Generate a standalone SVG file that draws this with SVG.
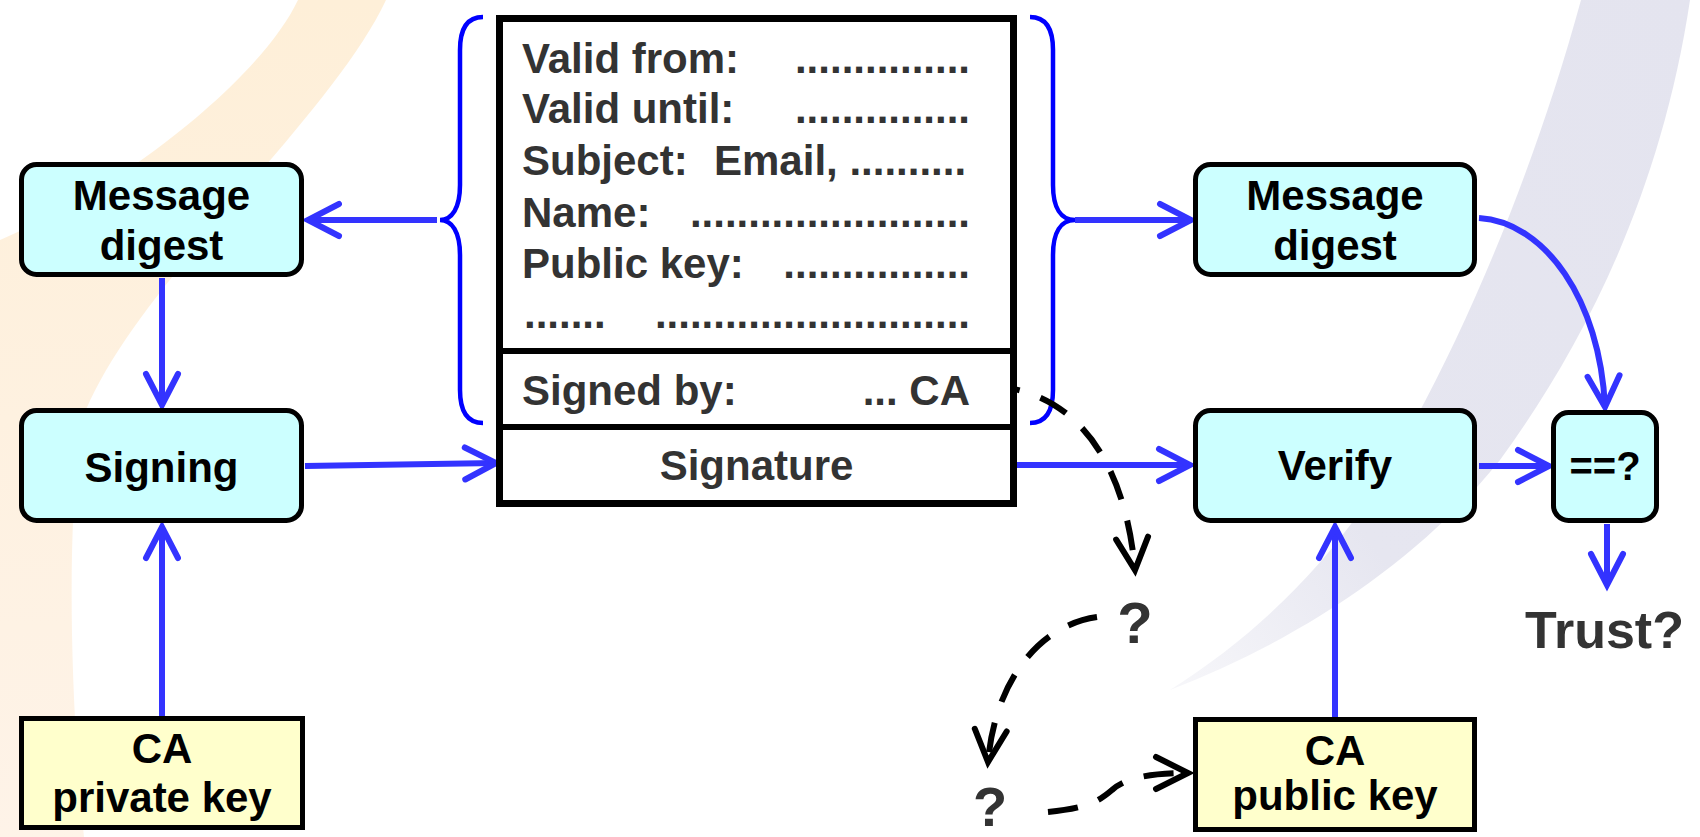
<svg xmlns="http://www.w3.org/2000/svg" width="1700" height="837" viewBox="0 0 1700 837">
<defs>
<style>
.box{fill:#CCFFFF;stroke:#000;stroke-width:5}
.key{fill:#FFFFCC;stroke:#000;stroke-width:5}
.lbl{font-family:"Liberation Sans",Arial,sans-serif;font-weight:bold;font-size:42px;fill:#000;text-anchor:middle}
.cert{font-family:"Liberation Sans",Arial,sans-serif;font-weight:bold;font-size:42px;fill:#333}
.end{text-anchor:end}
.mid{text-anchor:middle}
.q{font-family:"Liberation Sans",Arial,sans-serif;font-weight:bold;font-size:58px;fill:#333;text-anchor:middle}
.blue{fill:none;stroke:#3333FF;stroke-width:6;marker-end:url(#ab)}
.brace{fill:none;stroke:#0000FF;stroke-width:4.5}
.dash{fill:none;stroke:#000;stroke-width:6;stroke-dasharray:30 22;marker-end:url(#ak)}
</style>
<marker id="ab" markerUnits="userSpaceOnUse" markerWidth="80" markerHeight="80" refX="0" refY="0" orient="auto" overflow="visible" viewBox="-40 -40 80 80">
<path d="M-31,-16 L0,0 L-31,16" fill="none" stroke="#3333FF" stroke-width="6" stroke-linecap="round" stroke-linejoin="miter"/>
</marker>
<marker id="ak" markerUnits="userSpaceOnUse" markerWidth="80" markerHeight="80" refX="0" refY="0" orient="auto" overflow="visible" viewBox="-40 -40 80 80">
<path d="M-32,-16 L0,0 L-32,16" fill="none" stroke="#000" stroke-width="6" stroke-dasharray="none" stroke-linecap="round"/>
</marker>
<linearGradient id="og" x1="0" y1="0" x2="0" y2="1">
<stop offset="0" stop-color="#FEEFD8"/>
<stop offset="1" stop-color="#FEF3E8"/>
</linearGradient>
<linearGradient id="gg" x1="1" y1="0" x2="0" y2="1">
<stop offset="0" stop-color="#E4E4EF"/>
<stop offset="0.7" stop-color="#E6E6F0"/>
<stop offset="1" stop-color="#F7F7FA"/>
</linearGradient>
</defs>
<rect width="1700" height="837" fill="#fff"/>
<g id="background">
<path d="M298,0 L386,0 C330,120 130,290 82,420 C66,520 70,700 84,837 L0,837 L0,240 C120,190 260,80 298,0 Z" fill="url(#og)"/>
<path d="M1581,0 L1690,0 C1660,200 1580,350 1500,460 C1420,560 1300,640 1170,690 C1280,620 1360,530 1415,420 C1480,300 1540,150 1581,0 Z" fill="url(#gg)"/>
</g>
<g id="connectors">
<path class="blue" d="M437,220 L308,220"/>
<path class="blue" d="M1075,220 L1191,220"/>
<path class="blue" d="M162,278 L162,405"/>
<path class="blue" d="M162,716 L162,527"/>
<path class="blue" d="M305,466 L496,463"/>
<path class="blue" d="M1017,465 L1190,465"/>
<path class="blue" d="M1335,717 L1335,527"/>
<path class="blue" d="M1479,466 L1549,466"/>
<path class="blue" d="M1479,218 C1545,222 1600,300 1605,407"/>
<path class="blue" d="M1607,524 L1607,585"/>
<path class="brace" d="M483,17 C466,17 460,30 460,50 L460,185 C460,208 452,220 440,220 C452,220 460,232 460,255 L460,390 C460,410 466,423 483,423"/>
<path class="brace" d="M1030,17 C1047,17 1053,30 1053,50 L1053,185 C1053,208 1061,220 1075,220 C1061,220 1053,232 1053,255 L1053,390 C1053,410 1047,423 1030,423"/>
<path class="dash" d="M990,386 C1075,390 1125,460 1135,570"/>
<path class="dash" d="M1097,617 C1040,625 995,680 988,762"/>
<path class="dash" d="M1048,812 C1090,808 1100,800 1112,790 C1125,778 1150,773 1188,773"/>
</g>
<g id="certificate">
<rect x="499.5" y="18.5" width="514" height="485" fill="#fff" stroke="#000" stroke-width="7"/>
<line x1="499.5" y1="351" x2="1013.5" y2="351" stroke="#000" stroke-width="6"/>
<line x1="499.5" y1="427" x2="1013.5" y2="427" stroke="#000" stroke-width="6"/>
<text class="cert" x="522" y="73">Valid from:</text>
<text class="cert end" x="970" y="73">...............</text>
<text class="cert" x="522" y="123">Valid until:</text>
<text class="cert end" x="970" y="123">...............</text>
<text class="cert" x="522" y="175">Subject:</text>
<text class="cert" x="714" y="175">Email, ..........</text>
<text class="cert" x="522" y="227">Name:</text>
<text class="cert end" x="970" y="227">........................</text>
<text class="cert" x="522" y="278">Public key:</text>
<text class="cert end" x="970" y="278">................</text>
<text class="cert" x="524" y="328">.......</text>
<text class="cert end" x="970" y="328">...........................</text>
<text class="cert" x="522" y="405">Signed by:</text>
<text class="cert end" x="970" y="405">... CA</text>
<text class="cert mid" x="756.5" y="480">Signature</text>
</g>
<g id="digest-left">
<rect class="box" x="21.5" y="164.5" width="280" height="110" rx="15"/>
<text class="lbl" x="161.5" y="210">Message</text>
<text class="lbl" x="161.5" y="260">digest</text>
</g>
<g id="signing">
<rect class="box" x="21.5" y="410.5" width="280" height="110" rx="15"/>
<text class="lbl" x="161.5" y="482">Signing</text>
</g>
<g id="ca-private-key">
<rect class="key" x="21.5" y="718.5" width="281" height="109"/>
<text class="lbl" x="162" y="763">CA</text>
<text class="lbl" x="162" y="812">private key</text>
</g>
<g id="digest-right">
<rect class="box" x="1195.5" y="164.5" width="279" height="110" rx="15"/>
<text class="lbl" x="1335" y="210">Message</text>
<text class="lbl" x="1335" y="260">digest</text>
</g>
<g id="verify">
<rect class="box" x="1195.5" y="410.5" width="279" height="110" rx="15"/>
<text class="lbl" x="1335" y="480">Verify</text>
</g>
<g id="compare">
<rect class="box" x="1553.5" y="412.5" width="103" height="108" rx="15"/>
<text class="lbl" x="1605" y="480" style="font-size:40px">==?</text>
</g>
<g id="ca-public-key">
<rect class="key" x="1195.5" y="719.5" width="279" height="110"/>
<text class="lbl" x="1335" y="765">CA</text>
<text class="lbl" x="1335" y="810">public key</text>
</g>
<g id="q1"><text class="q" x="1135" y="643">?</text></g>
<g id="q2"><text class="q" x="990" y="826" style="font-size:56px">?</text></g>
<g id="trust"><text class="q" x="1525" y="648" style="font-size:52px;text-anchor:start">Trust?</text></g>
</svg>
